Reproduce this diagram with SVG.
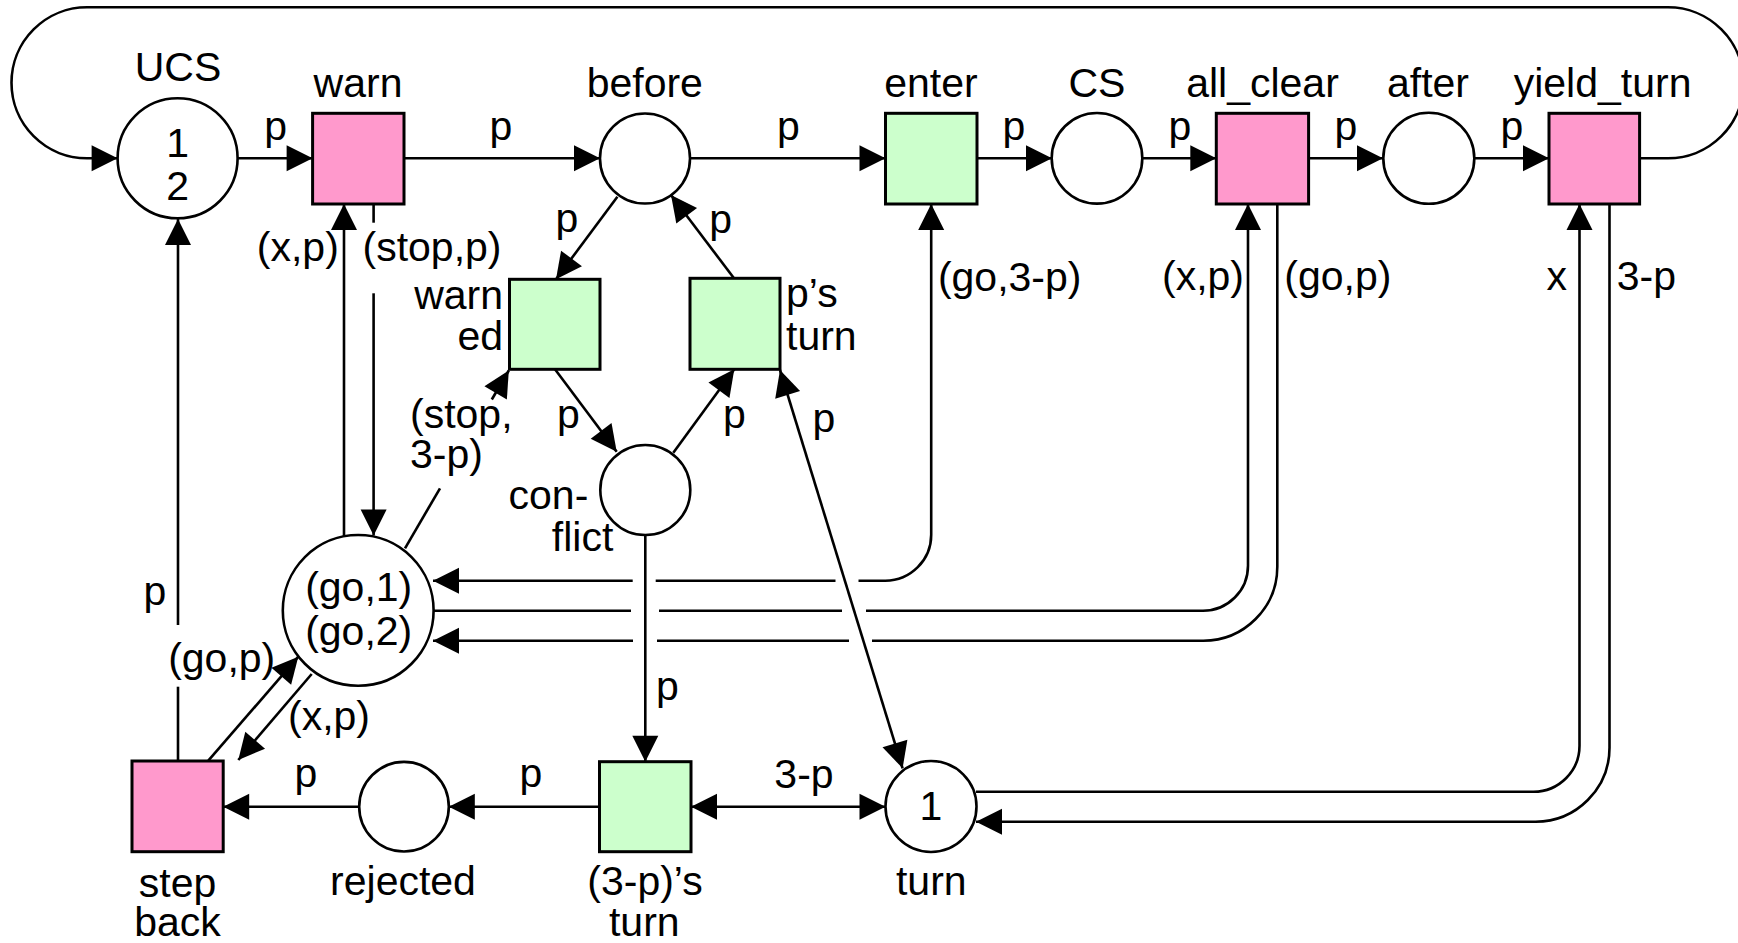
<svg xmlns="http://www.w3.org/2000/svg" width="1738" height="943" viewBox="0 0 1738 943">
  <style>
    .t { font-family: "Liberation Sans", Arial, Helvetica, sans-serif; font-size: 41px; fill: #000; }
    .m { text-anchor: middle; }
    .e { text-anchor: end; }
    .place { fill: #fff; stroke: #000; stroke-width: 2.6; }
    .red { fill: #ff99cc; stroke: #000; stroke-width: 3; }
    .grn { fill: #ccffcc; stroke: #000; stroke-width: 3; }
    .arc { fill: none; stroke: #000; stroke-width: 2.6; }
    .to { marker-end: url(#head); }
    .both { marker-start: url(#head); marker-end: url(#head); }
  </style>
  <defs>
    <marker id="head" markerUnits="userSpaceOnUse" markerWidth="28" markerHeight="28" refX="26" refY="13" orient="auto-start-reverse" overflow="visible">
      <path d="M0,0 L26,13 L0,26 Z" fill="#000"/>
    </marker>
  </defs>
  <rect width="1738" height="943" fill="#fff"/>

  <!-- arcs of the net -->
  <g id="connectors">
    <!-- long loop: yield_turn back to UCS over the top -->
    <path class="arc to" d="M1640,158.3 H1668 A75.5,75.5 0 0 0 1668,7.3 H87 A75.5,75.5 0 0 0 87,158.3 H117.6"/>
    <!-- main row -->
    <path class="arc to" d="M237.6,158.3 H312.6"/>
    <path class="arc to" d="M404,158.3 H600"/>
    <path class="arc to" d="M690,158.3 H885.5"/>
    <path class="arc to" d="M977,158.3 H1052"/>
    <path class="arc to" d="M1142.5,158.3 H1216.3"/>
    <path class="arc to" d="M1308.6,158.3 H1383"/>
    <path class="arc to" d="M1474.5,158.3 H1549"/>

    <!-- warn <-> (go,1)(go,2) -->
    <path class="arc to" d="M344,536.5 V204"/>
    <path class="arc" d="M373.6,204 V222.7"/>
    <path class="arc to" d="M373.6,293.3 V535.5"/>

    <!-- step back -> UCS -->
    <path class="arc" d="M178,761 V686.7"/>
    <path class="arc to" d="M178,625 V219"/>

    <!-- enter <-> go place (read arc) -->
    <path class="arc" d="M433,580.7 H632.7" style="marker-start:url(#head)"/>
    <path class="arc" d="M655.7,580.7 H835.5"/>
    <path class="arc to" d="M858.5,580.7 H885.3 A46,46 0 0 0 931.2,534.7 V204"/>

    <!-- go place -> all_clear -->
    <path class="arc" d="M433.5,610.7 H631"/>
    <path class="arc" d="M659,610.7 H842"/>
    <path class="arc to" d="M866,610.7 H1203 A45,45 0 0 0 1248,565.7 V204"/>

    <!-- all_clear -> go place -->
    <path class="arc" d="M1277.3,204 V566.7 A74,74 0 0 1 1203.3,640.7 H872"/>
    <path class="arc" d="M849,640.7 H657"/>
    <path class="arc to" d="M633,640.7 H433"/>

    <!-- yield_turn <-> turn -->
    <path class="arc to" d="M1609.5,204 V747.7 A74,74 0 0 1 1535.5,821.7 H976"/>
    <path class="arc to" d="M976,791.7 H1533.5 A46,46 0 0 0 1579.5,745.7 V204"/>

    <!-- before / warned / p's turn / conflict diamond -->
    <path class="arc to" d="M617.4,196.7 L556,279.3"/>
    <path class="arc to" d="M734,278.3 L671,195"/>
    <path class="arc to" d="M555,369.3 L616.7,451.7"/>
    <path class="arc to" d="M673.3,452.7 L734.3,369.3"/>
    <path class="arc both" d="M780,370 L902.6,768.3"/>
    <path class="arc to" d="M645.3,535.5 V761.7"/>

    <!-- go place -> warned -->
    <path class="arc" d="M405,548.3 L440,488.3"/>
    <path class="arc to" d="M491.8,399.5 L508.8,370.5"/>

    <!-- step back <-> go place -->
    <path class="arc to" d="M208.3,760.7 L298.3,656.7"/>
    <path class="arc to" d="M311.7,674 L238.3,760"/>

    <!-- bottom row -->
    <path class="arc to" d="M359.4,806.7 H223.2"/>
    <path class="arc to" d="M599.5,806.7 H448.8"/>
    <path class="arc both" d="M691,806.7 H885.5"/>

    <!-- arc inscriptions -->
    <g id="arc-labels">
      <text class="t m" x="275.6" y="140">p</text>
      <text class="t m" x="501" y="140">p</text>
      <text class="t m" x="788.5" y="140">p</text>
      <text class="t m" x="1014" y="140">p</text>
      <text class="t m" x="1180" y="140">p</text>
      <text class="t m" x="1346" y="140">p</text>
      <text class="t m" x="1512" y="140">p</text>

      <text class="t m" x="297.8" y="261">(x,p)</text>
      <text class="t m" x="432" y="261">(stop,p)</text>
      <text class="t m" x="1009.7" y="291">(go,3-p)</text>
      <text class="t m" x="1203" y="290">(x,p)</text>
      <text class="t m" x="1337.8" y="290">(go,p)</text>
      <text class="t m" x="1556.7" y="290">x</text>
      <text class="t m" x="1646.4" y="290">3-p</text>

      <text class="t m" x="567" y="232">p</text>
      <text class="t m" x="720.7" y="233">p</text>
      <text class="t m" x="568.5" y="428.3">p</text>
      <text class="t m" x="734.3" y="428.3">p</text>
      <text class="t m" x="824" y="431.7">p</text>

      <text class="t" x="410" y="428.3">(stop,</text>
      <text class="t" x="410" y="468.3">3-p)</text>

      <text class="t m" x="155" y="605">p</text>
      <text class="t m" x="221.7" y="671.7">(go,p)</text>
      <text class="t m" x="329" y="730">(x,p)</text>
      <text class="t m" x="667.4" y="700">p</text>

      <text class="t m" x="305.8" y="786.7">p</text>
      <text class="t m" x="531" y="786.7">p</text>
      <text class="t m" x="804" y="788.3">3-p</text>
    </g>
  </g>

  <!-- places -->
  <g id="UCS">
    <circle class="place" cx="177.6" cy="158.3" r="60"/>
    <text class="t m" x="178" y="81">UCS</text>
    <text class="t m" x="177.6" y="156.7">1</text>
    <text class="t m" x="177.6" y="200">2</text>
  </g>
  <g id="before">
    <circle class="place" cx="645" cy="158.5" r="45"/>
    <text class="t m" x="644.8" y="96.7">before</text>
  </g>
  <g id="CS">
    <circle class="place" cx="1097" cy="158.3" r="45.3"/>
    <text class="t m" x="1097" y="96.7">CS</text>
  </g>
  <g id="after">
    <circle class="place" cx="1428.8" cy="158.3" r="45.5"/>
    <text class="t m" x="1428" y="96.7">after</text>
  </g>
  <g id="conflict">
    <circle class="place" cx="645.3" cy="490" r="45"/>
    <text class="t e" x="588.3" y="509">con-</text>
    <text class="t e" x="613.3" y="551">flict</text>
  </g>
  <g id="go">
    <circle class="place" cx="358.2" cy="610.4" r="75.4"/>
    <text class="t m" x="358.7" y="601">(go,1)</text>
    <text class="t m" x="358.7" y="645">(go,2)</text>
  </g>
  <g id="rejected">
    <circle class="place" cx="404" cy="806.7" r="44.8"/>
    <text class="t m" x="403" y="895">rejected</text>
  </g>
  <g id="turn">
    <circle class="place" cx="931" cy="806.5" r="45.5"/>
    <text class="t m" x="931" y="820">1</text>
    <text class="t m" x="931.3" y="895">turn</text>
  </g>

  <!-- transitions -->
  <g id="warn">
    <rect class="red" x="312.6" y="113.3" width="91.4" height="90.7"/>
    <text class="t m" x="358" y="97.3">warn</text>
  </g>
  <g id="enter">
    <rect class="grn" x="885.5" y="113.3" width="91.5" height="90.7"/>
    <text class="t m" x="931" y="96.7">enter</text>
  </g>
  <g id="all_clear">
    <rect class="red" x="1216.3" y="113.3" width="92.3" height="90.7"/>
    <text class="t m" x="1262.5" y="96.7">all_clear</text>
  </g>
  <g id="yield_turn">
    <rect class="red" x="1549" y="113.3" width="90.6" height="90.7"/>
    <text class="t m" x="1602.6" y="96.7">yield_turn</text>
  </g>
  <g id="warned">
    <rect class="grn" x="509.5" y="279.3" width="90.5" height="90"/>
    <text class="t e" x="503" y="309">warn</text>
    <text class="t e" x="503" y="350">ed</text>
  </g>
  <g id="ps_turn">
    <rect class="grn" x="690" y="278.3" width="90" height="91"/>
    <text class="t" x="786" y="307">p’s</text>
    <text class="t" x="786" y="350">turn</text>
  </g>
  <g id="step_back">
    <rect class="red" x="132" y="761" width="91.2" height="90.7"/>
    <text class="t m" x="177.5" y="896.7">step</text>
    <text class="t m" x="177.5" y="936">back</text>
  </g>
  <g id="other_turn">
    <rect class="grn" x="599.5" y="761.7" width="91.5" height="90"/>
    <text class="t m" x="645" y="895">(3-p)’s</text>
    <text class="t m" x="644.3" y="936">turn</text>
  </g>
</svg>
